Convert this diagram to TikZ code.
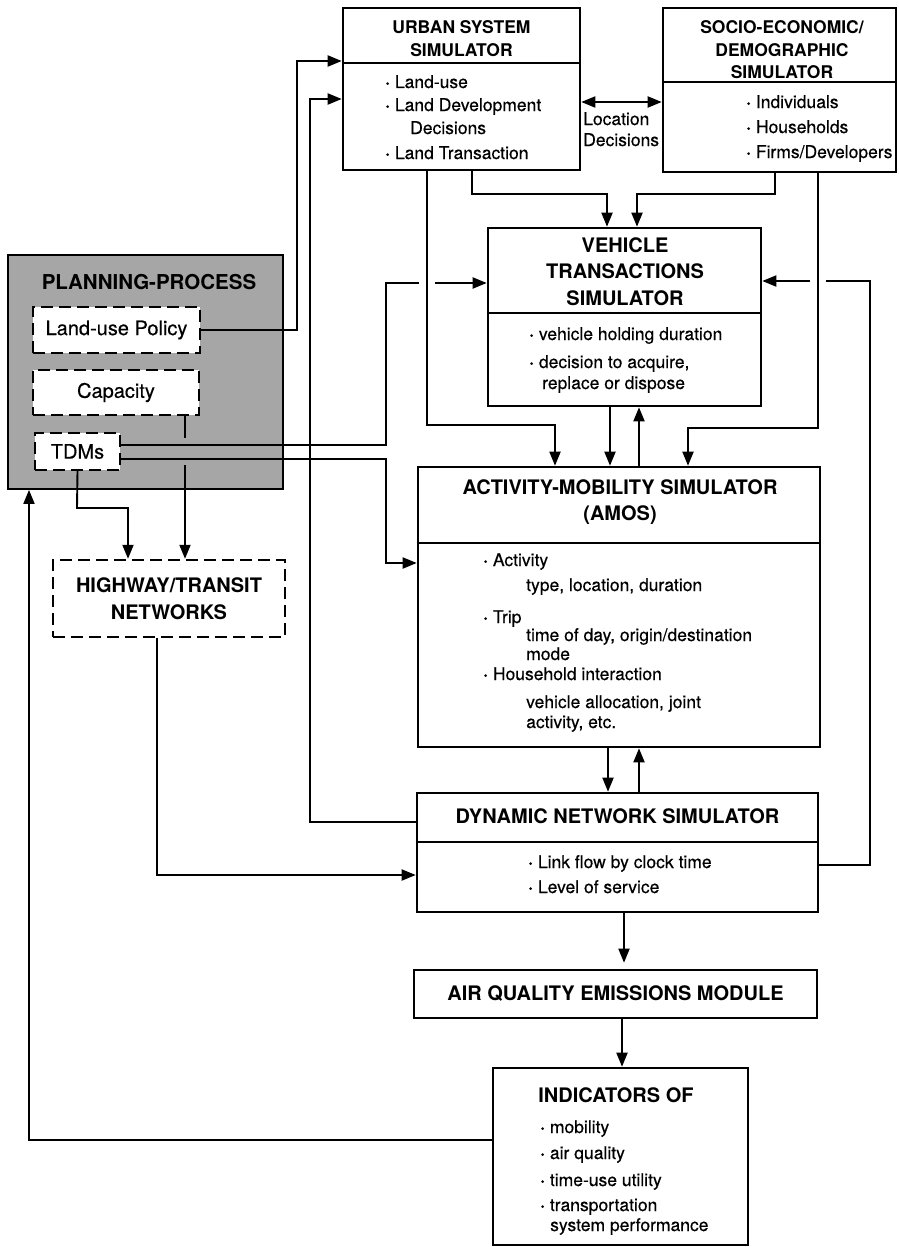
\documentclass[tikz,border=0pt]{standalone}
\usepackage{fontspec}
\setmainfont{TeX Gyre Heros}
\newfontfamily\bodyfont[FakeBold=0.4]{TeX Gyre Heros}
\usetikzlibrary{arrows.meta}
\newcommand\bdot{{\bfseries ·}\ }
\begin{document}
\begin{tikzpicture}[x=1pt,y=-1pt,
  box/.style={draw, line width=2.6pt, inner sep=0pt},
  dbox/.style={draw, line width=2.4pt, dash pattern=on 12pt off 6pt, fill=white, inner sep=0pt},
  divline/.style={line width=2.6pt},
  conn/.style={line width=1.9pt},
  arr/.style={conn, -{Triangle[length=14pt,width=11pt]}},
  dbl/.style={conn, {Triangle[length=14pt,width=11pt]}-{Triangle[length=14pt,width=11pt]}},
  hd/.style={font=\fontsize{20}{26.5}\selectfont\bfseries, align=center, inner sep=0pt},
  hds/.style={font=\fontsize{17.5}{22.5}\selectfont\bfseries, align=center, inner sep=0pt},
  txt/.style={font=\bodyfont\fontsize{17.5}{21}\selectfont, anchor=base west, inner sep=0pt},
  ptxt/.style={font=\bodyfont\fontsize{20}{24}\selectfont},
]
\useasboundingbox (0,0) rectangle (898,1247);

% ---------- boxes ----------
\node[box, minimum width=237pt, minimum height=162pt] (urban) at (461.5,89) {};
\draw[divline] (urban.west |- 0,63) -- (urban.east |- 0,63);
\node[box, minimum width=233pt, minimum height=164pt] (socio) at (779.5,90) {};
\draw[divline] (socio.west |- 0,82) -- (socio.east |- 0,82);
\node[box, minimum width=273pt, minimum height=178pt] (veh) at (624.5,317) {};
\draw[divline] (veh.west |- 0,313) -- (veh.east |- 0,313);
\node[box, minimum width=402pt, minimum height=280pt] (amos) at (619,607) {};
\draw[divline] (amos.west |- 0,543) -- (amos.east |- 0,543);
\node[box, minimum width=401pt, minimum height=119pt] (dns) at (617.5,852.5) {};
\draw[divline] (dns.west |- 0,842) -- (dns.east |- 0,842);
\node[box, minimum width=403pt, minimum height=48pt] (aq) at (615.5,994) {};
\node[box, minimum width=255pt, minimum height=177pt] (ind) at (620.5,1156.5) {};

\node[draw, line width=1.8pt, fill=black!35, minimum width=275pt, minimum height=234pt] (plan) at (145.5,372) {};
\node[dbox, ptxt, minimum width=167pt, minimum height=46pt] (lup) at (116.5,330) {Land-use Policy};
\node[dbox, ptxt, minimum width=166pt, minimum height=45pt] (cap) at (116,392.5) {Capacity};
\node[dbox, ptxt, minimum width=85pt, minimum height=37pt] (tdm) at (77.5,451.5) {TDMs};
\node[dbox, hd, minimum width=232pt, minimum height=77pt] (hw) at (169,598.5) {HIGHWAY/TRANSIT\\NETWORKS};

% ---------- headings ----------
\node[hds] (urbanh) at (461.5,38.5) {URBAN SYSTEM\\SIMULATOR};
\node[hds] (socioh) at (782,50) {SOCIO-ECONOMIC/\\DEMOGRAPHIC\\SIMULATOR};
\node[hd] (vehh) at (625,271.5) {VEHICLE\\TRANSACTIONS\\SIMULATOR};
\node[hd] (amosh) at (620,502) {ACTIVITY-MOBILITY SIMULATOR\\(AMOS)};
\node[hd] (dnsh) at (617.5,816) {DYNAMIC NETWORK SIMULATOR};
\node[hd] (aqh) at (615.5,994) {AIR QUALITY EMISSIONS MODULE};
\node[hd] (indh) at (616,1095) {INDICATORS OF};
\node[hd, font=\fontsize{20.5}{24}\selectfont\bfseries] (planh) at (149,282) {PLANNING-PROCESS};

% ---------- body texts ----------
\node[txt] (u1) at (385,88) {\bdot Land-use};
\node[txt] (u2) at (385,111) {\bdot Land Development};
\node[txt] (u3) at (410,134) {Decisions};
\node[txt] (u4) at (385,159) {\bdot Land Transaction};

\node[txt] (s1) at (746,108) {\bdot Individuals};
\node[txt] (s2) at (746,133) {\bdot Households};
\node[txt] (s3) at (746,158) {\bdot Firms/Developers};

\node[txt] (ld1) at (583,125) {Location};
\node[txt] (ld2) at (583,146) {Decisions};

\node[txt] (v1) at (529,340) {\bdot vehicle holding duration};
\node[txt] (v2) at (529,368) {\bdot decision to acquire,};
\node[txt] (v3) at (542,389) {replace or dispose};

\node[txt] (a1) at (483,566) {\bdot Activity};
\node[txt] (a2) at (526,591) {type, location, duration};
\node[txt] (a3) at (483,623) {\bdot Trip};
\node[txt] (a4) at (526,641) {time of day, origin/destination};
\node[txt] (a5) at (526,660) {mode};
\node[txt] (a6) at (483,680) {\bdot Household interaction};
\node[txt] (a7) at (526,708) {vehicle allocation, joint};
\node[txt] (a8) at (526,728) {activity, etc.};

\node[txt] (d1) at (528,868) {\bdot Link flow by clock time};
\node[txt] (d2) at (528,893) {\bdot Level of service};

\node[txt] (i1) at (540,1133) {\bdot mobility};
\node[txt] (i2) at (540,1159) {\bdot air quality};
\node[txt] (i3) at (540,1186) {\bdot time-use utility};
\node[txt] (i4) at (540,1211) {\bdot transportation};
\node[txt] (i5) at (550,1231) {system performance};

% ---------- connectors ----------
\draw[dbl] (urban.east |- 0,102) -- (socio.west |- 0,102);
\draw[arr] (urban.south -| 472,0) -- (472,194) -- (607,194) -- (veh.north -| 607,0);
\draw[arr] (socio.south -| 775,0) -- (775,194) -- (637,194) -- (veh.north -| 637,0);
\draw[arr] (urban.south -| 427,0) -- (427,425) -- (555,425) -- (amos.north -| 555,0);
\draw[arr] (socio.south -| 818,0) -- (818,428) -- (688,428) -- (amos.north -| 688,0);
\draw[arr] (veh.south -| 610,0) -- (amos.north -| 610,0);
\draw[arr] (amos.north -| 639,0) -- (veh.south -| 639,0);
\draw[arr] (amos.south -| 608,0) -- (dns.north -| 608,0);
\draw[arr] (dns.north -| 639,0) -- (amos.south -| 639,0);
\draw[arr, shorten >=6pt] (dns.south -| 624,0) -- (aq.north -| 624,0);
\draw[arr] (aq.south -| 622,0) -- (ind.north -| 622,0);

\draw[arr] (lup.east) -- (297,330) -- (297,61) -- (urban.west |- 0,61);
\draw[arr] (dns.west |- 0,822) -- (310,822) -- (310,99) -- (urban.west |- 0,99);
\draw[arr] (tdm.east |- 0,445) -- (386,445) -- (386,283) -- (419,283) (435,283) -- (veh.west |- 0,283);
\draw[arr] (tdm.east |- 0,459) -- (386,459) -- (386,563) -- (amos.west |- 0,563);
\draw[arr] (tdm.south) -- (77,508) -- (128,508) -- (hw.north -| 128,0);
\draw[arr] (cap.south -| 185,0) -- (185,438) (185,465) -- (hw.north -| 185,0);
\draw[arr] (hw.south -| 157,0) -- (157,875) -- (dns.west |- 0,875);
\draw[arr] (dns.east |- 0,865) -- (870,865) -- (870,281) -- (826,281) (810,281) -- (veh.east |- 0,281);
\draw[arr] (ind.west |- 0,1140) -- (29,1140) -- (plan.south -| 29,0);
\end{tikzpicture}
\end{document}
